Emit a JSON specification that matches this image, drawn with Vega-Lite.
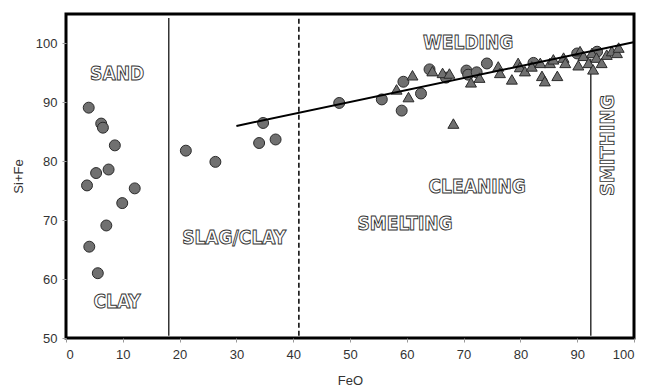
{
  "$schema": "https://vega.github.io/schema/vega-lite/v6.json",
  "autosize": "none",
  "width": 568,
  "height": 324,
  "padding": {"left": 66, "top": 14, "right": 12, "bottom": 52},
  "background": "white",
  "config": {
    "view": {"stroke": "black", "strokeWidth": 3},
    "axis": {
      "grid": false,
      "domain": false,
      "tickColor": "#999",
      "tickSize": 4,
      "labelFont": "Liberation Sans",
      "labelFontSize": 13,
      "labelColor": "#333",
      "titleFont": "Liberation Sans",
      "titleFontSize": 13,
      "titleFontWeight": "normal",
      "titleColor": "#333"
    }
  },
  "datasets": {
    "pts": [
      {"FeO": 4.0, "SiFe": 89.1, "g": "circle"},
      {"FeO": 6.2, "SiFe": 86.4, "g": "circle"},
      {"FeO": 6.5, "SiFe": 85.7, "g": "circle"},
      {"FeO": 8.6, "SiFe": 82.7, "g": "circle"},
      {"FeO": 5.3, "SiFe": 78.0, "g": "circle"},
      {"FeO": 7.5, "SiFe": 78.6, "g": "circle"},
      {"FeO": 3.7, "SiFe": 75.9, "g": "circle"},
      {"FeO": 12.1, "SiFe": 75.4, "g": "circle"},
      {"FeO": 9.9, "SiFe": 72.9, "g": "circle"},
      {"FeO": 7.1, "SiFe": 69.1, "g": "circle"},
      {"FeO": 4.1, "SiFe": 65.5, "g": "circle"},
      {"FeO": 5.6, "SiFe": 61.0, "g": "circle"},
      {"FeO": 21.1, "SiFe": 81.8, "g": "circle"},
      {"FeO": 26.3, "SiFe": 79.9, "g": "circle"},
      {"FeO": 34.0, "SiFe": 83.1, "g": "circle"},
      {"FeO": 34.7, "SiFe": 86.5, "g": "circle"},
      {"FeO": 36.9, "SiFe": 83.7, "g": "circle"},
      {"FeO": 48.1, "SiFe": 89.9, "g": "circle"},
      {"FeO": 55.6, "SiFe": 90.5, "g": "circle"},
      {"FeO": 59.4, "SiFe": 93.5, "g": "circle"},
      {"FeO": 62.5, "SiFe": 91.5, "g": "circle"},
      {"FeO": 59.1, "SiFe": 88.6, "g": "circle"},
      {"FeO": 64.0, "SiFe": 95.6, "g": "circle"},
      {"FeO": 66.9, "SiFe": 94.2, "g": "circle"},
      {"FeO": 70.5, "SiFe": 95.4, "g": "circle"},
      {"FeO": 70.8, "SiFe": 94.7, "g": "circle"},
      {"FeO": 72.3, "SiFe": 95.1, "g": "circle"},
      {"FeO": 74.1, "SiFe": 96.6, "g": "circle"},
      {"FeO": 82.3, "SiFe": 96.7, "g": "circle"},
      {"FeO": 90.0, "SiFe": 98.3, "g": "circle"},
      {"FeO": 93.5, "SiFe": 98.6, "g": "circle"},
      {"FeO": 61.0, "SiFe": 94.6, "g": "triangle"},
      {"FeO": 58.2, "SiFe": 92.2, "g": "triangle"},
      {"FeO": 60.3, "SiFe": 90.9, "g": "triangle"},
      {"FeO": 64.5, "SiFe": 95.3, "g": "triangle"},
      {"FeO": 66.3, "SiFe": 95.0, "g": "triangle"},
      {"FeO": 67.5, "SiFe": 94.9, "g": "triangle"},
      {"FeO": 68.2, "SiFe": 86.4, "g": "triangle"},
      {"FeO": 71.3, "SiFe": 93.4, "g": "triangle"},
      {"FeO": 72.8, "SiFe": 94.2, "g": "triangle"},
      {"FeO": 76.1, "SiFe": 96.1, "g": "triangle"},
      {"FeO": 76.4, "SiFe": 95.0, "g": "triangle"},
      {"FeO": 78.5, "SiFe": 93.9, "g": "triangle"},
      {"FeO": 79.6, "SiFe": 96.7, "g": "triangle"},
      {"FeO": 79.9, "SiFe": 96.0, "g": "triangle"},
      {"FeO": 80.8, "SiFe": 95.3, "g": "triangle"},
      {"FeO": 82.0, "SiFe": 96.1, "g": "triangle"},
      {"FeO": 83.5, "SiFe": 96.7, "g": "triangle"},
      {"FeO": 83.8, "SiFe": 94.5, "g": "triangle"},
      {"FeO": 84.3, "SiFe": 93.6, "g": "triangle"},
      {"FeO": 85.2, "SiFe": 96.7, "g": "triangle"},
      {"FeO": 85.8, "SiFe": 97.3, "g": "triangle"},
      {"FeO": 86.5, "SiFe": 94.5, "g": "triangle"},
      {"FeO": 87.6, "SiFe": 97.6, "g": "triangle"},
      {"FeO": 87.9, "SiFe": 96.7, "g": "triangle"},
      {"FeO": 90.2, "SiFe": 96.3, "g": "triangle"},
      {"FeO": 90.5, "SiFe": 98.7, "g": "triangle"},
      {"FeO": 91.1, "SiFe": 97.9, "g": "triangle"},
      {"FeO": 92.0, "SiFe": 96.7, "g": "triangle"},
      {"FeO": 92.6, "SiFe": 98.4, "g": "triangle"},
      {"FeO": 92.8, "SiFe": 95.6, "g": "triangle"},
      {"FeO": 93.4, "SiFe": 97.6, "g": "triangle"},
      {"FeO": 94.3, "SiFe": 96.7, "g": "triangle"},
      {"FeO": 95.2, "SiFe": 98.1, "g": "triangle"},
      {"FeO": 96.1, "SiFe": 98.7, "g": "triangle"},
      {"FeO": 97.0, "SiFe": 98.4, "g": "triangle"},
      {"FeO": 97.3, "SiFe": 99.3, "g": "triangle"}
    ],
    "trend": [
      {"FeO": 30.0, "SiFe": 86.0},
      {"FeO": 99.9, "SiFe": 100.2}
    ],
    "solidRules": [
      {"FeO": 18.1, "y1": 50.4, "y2": 104.3},
      {"FeO": 92.4, "y1": 50.4, "y2": 97.4}
    ],
    "dashRules": [
      {"FeO": 41.0, "y1": 50.4, "y2": 104.6}
    ],
    "labels": [
      {"FeO": 9.0, "SiFe": 95.1, "t": "SAND"},
      {"FeO": 9.0, "SiFe": 56.5, "t": "CLAY"},
      {"FeO": 29.6, "SiFe": 67.3, "t": "SLAG/CLAY"},
      {"FeO": 70.8, "SiFe": 100.5, "t": "WELDING"},
      {"FeO": 72.4, "SiFe": 76.0, "t": "CLEANING"},
      {"FeO": 59.7, "SiFe": 69.7, "t": "SMELTING"}
    ],
    "vlabels": [
      {"FeO": 95.4, "SiFe": 82.7, "t": "SMITHING"}
    ]
  },
  "layer": [
    {
      "data": {"name": "solidRules"},
      "mark": {"type": "rule", "color": "black", "strokeWidth": 1.2},
      "encoding": {
        "x": {"field": "FeO", "type": "quantitative"},
        "y": {"field": "y1", "type": "quantitative"},
        "y2": {"field": "y2"}
      }
    },
    {
      "data": {"name": "dashRules"},
      "mark": {"type": "rule", "color": "black", "strokeWidth": 1.5, "strokeDash": [5, 3]},
      "encoding": {
        "x": {"field": "FeO", "type": "quantitative"},
        "y": {"field": "y1", "type": "quantitative"},
        "y2": {"field": "y2"}
      }
    },
    {
      "data": {"name": "pts"},
      "mark": {"type": "point", "filled": true, "fill": "#707070", "stroke": "#2a2a2a", "strokeWidth": 1, "opacity": 1, "size": 120},
      "encoding": {
        "x": {
          "field": "FeO", "type": "quantitative",
          "scale": {"domain": [0, 100], "nice": false, "zero": false},
          "axis": {"values": [0, 10, 20, 30, 40, 50, 60, 70, 80, 90, 100], "title": "FeO", "labelPadding": 6, "titlePadding": 13}
        },
        "y": {
          "field": "SiFe", "type": "quantitative",
          "scale": {"domain": [50, 105], "nice": false, "zero": false},
          "axis": {"values": [50, 60, 70, 80, 90, 100], "title": "Si+Fe", "labelPadding": 5, "titlePadding": 10}
        },
        "shape": {
          "field": "g", "type": "nominal",
          "scale": {"domain": ["circle", "triangle"], "range": ["circle", "triangle-up"]},
          "legend": null
        }
      }
    },
    {
      "data": {"name": "trend"},
      "mark": {"type": "line", "color": "black", "strokeWidth": 2},
      "encoding": {
        "x": {"field": "FeO", "type": "quantitative"},
        "y": {"field": "SiFe", "type": "quantitative"}
      }
    },
    {
      "data": {"name": "labels"},
      "mark": {"type": "text", "font": "DejaVu Sans Condensed, sans-serif", "fontWeight": "bold", "fontSize": 19, "fill": "white", "stroke": "#333", "strokeWidth": 0.9, "align": "center", "baseline": "middle", "dy": 2},
      "encoding": {
        "x": {"field": "FeO", "type": "quantitative"},
        "y": {"field": "SiFe", "type": "quantitative"},
        "text": {"field": "t"}
      }
    },
    {
      "data": {"name": "vlabels"},
      "mark": {"type": "text", "font": "DejaVu Sans Condensed, sans-serif", "fontWeight": "bold", "fontSize": 20, "fill": "white", "stroke": "#333", "strokeWidth": 0.9, "align": "center", "baseline": "middle", "angle": 270},
      "encoding": {
        "x": {"field": "FeO", "type": "quantitative"},
        "y": {"field": "SiFe", "type": "quantitative"},
        "text": {"field": "t"}
      }
    }
  ]
}
